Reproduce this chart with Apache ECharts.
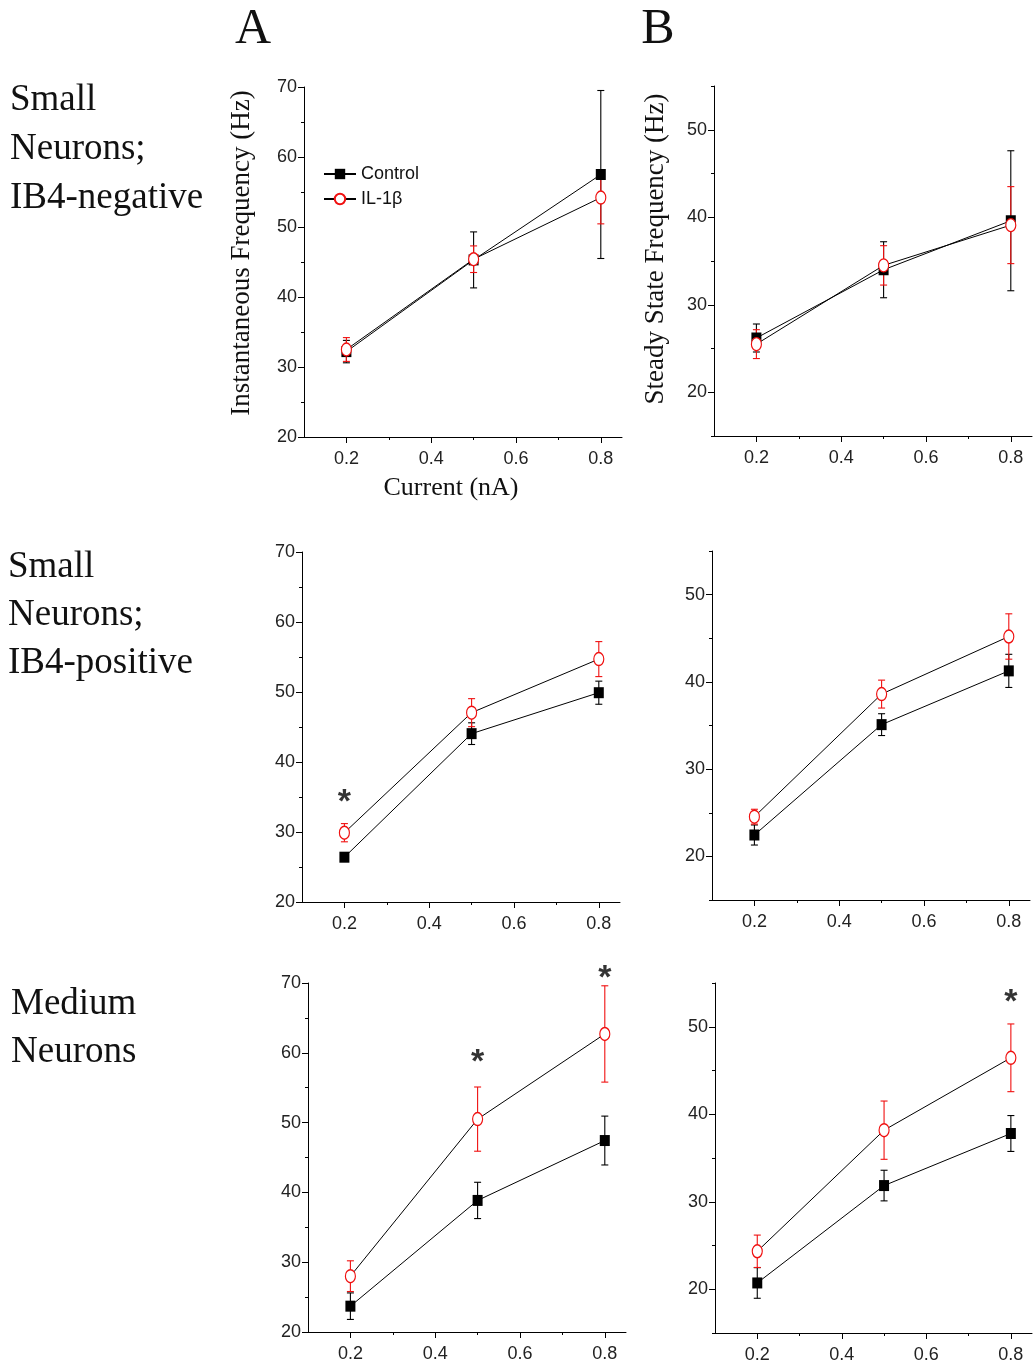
<!DOCTYPE html>
<html><head><meta charset="utf-8">
<script src="https://cdn.jsdelivr.net/npm/echarts@6/dist/echarts.min.js"></script>
<style>html,body{margin:0;padding:0;background:#fff}#c{width:1034px;height:1367px}</style>
</head><body><div id="c"></div>
<script>
// ---------- data ----------
const currents = [0.2, 0.5, 0.8];
const xTickLabels = [0.2, 0.4, 0.6, 0.8];
const xMinorTicks = [0.3, 0.5, 0.7];
const yTicksInst = [20, 30, 40, 50, 60, 70];
const yMinorInst = [25, 35, 45, 55, 65];
const yTicksSteady = [20, 30, 40, 50];
const yMinorSteady = [15, 25, 35, 45, 55];

// Small neurons IB4-negative
const instNegControl = [32.2, 45.3, 57.5];
const instNegControlErr = [1.6, 4.0, 12.0];
const instNegIL = [32.5, 45.4, 54.2];
const instNegILErr = [1.7, 1.9, 3.75];
const steadyNegControl = [26.2, 34.0, 39.6];
const steadyNegControlErr = [1.6, 3.2, 8.0];
const steadyNegIL = [25.5, 34.5, 39.1];
const steadyNegILErr = [1.65, 2.25, 4.4];
// Small neurons IB4-positive
const instPosControl = [26.4, 44.05, 49.9];
const instPosControlErr = [0.6, 1.55, 1.65];
const instPosIL = [29.9, 47.05, 54.7];
const instPosILErr = [1.3, 2.0, 2.5];
const steadyPosControl = [22.45, 35.1, 41.26];
const steadyPosControlErr = [1.15, 1.25, 1.9];
const steadyPosIL = [24.55, 38.6, 45.2];
const steadyPosILErr = [0.85, 1.6, 2.6];
// Medium neurons
const instMedControl = [23.7, 38.85, 47.43];
const instMedControlErr = [1.9, 2.6, 3.5];
const instMedIL = [28.0, 50.5, 62.7];
const instMedILErr = [2.2, 4.6, 6.9];
const steadyMedControl = [20.72, 31.85, 37.8];
const steadyMedControlErr = [1.75, 1.75, 2.05];
const steadyMedIL = [24.34, 38.18, 46.45];
const steadyMedILErr = [1.85, 3.33, 3.87];

// significance markers [current, y]
const starsInstPos = [[0.2, 35.3]];
const starsInstMed = [[0.5, 59.7], [0.8, 71.8]];
const starsSteadyMed = [[0.8, 53.7]];

const seriesNames = ['Control', 'IL-1\u03b2'];
const rowLabels = [['Small', 'Neurons;', 'IB4-negative'], ['Small', 'Neurons;', 'IB4-positive'], ['Medium', 'Neurons']];
const yTitleInst = 'Instantaneous Frequency (Hz)';
const yTitleSteady = 'Steady State Frequency (Hz)';
const xTitle = 'Current (nA)';

// ---------- layout ----------
const panels = [
  {box: [304, 87, 318, 350], yMin: 20, yMax: 70, major: yTicksInst, minor: yMinorInst,
   c: instNegControl, ce: instNegControlErr, t: instNegIL, te: instNegILErr, stars: []},
  {box: [714, 86, 318, 350], yMin: 15, yMax: 55, major: yTicksSteady, minor: yMinorSteady,
   c: steadyNegControl, ce: steadyNegControlErr, t: steadyNegIL, te: steadyNegILErr, stars: []},
  {box: [302, 552, 318, 350], yMin: 20, yMax: 70, major: yTicksInst, minor: yMinorInst,
   c: instPosControl, ce: instPosControlErr, t: instPosIL, te: instPosILErr, stars: starsInstPos},
  {box: [712, 551, 318, 349], yMin: 15, yMax: 55, major: yTicksSteady, minor: yMinorSteady,
   c: steadyPosControl, ce: steadyPosControlErr, t: steadyPosIL, te: steadyPosILErr, stars: []},
  {box: [308, 983, 318, 349], yMin: 20, yMax: 70, major: yTicksInst, minor: yMinorInst,
   c: instMedControl, ce: instMedControlErr, t: instMedIL, te: instMedILErr, stars: starsInstMed},
  {box: [715, 983, 317, 350], yMin: 15, yMax: 55, major: yTicksSteady, minor: yMinorSteady,
   c: steadyMedControl, ce: steadyMedControlErr, t: steadyMedIL, te: steadyMedILErr, stars: starsSteadyMed}
];

const RED = '#f01010';
const tickFont = '"Liberation Sans Narrow","Liberation Sans",Arial,sans-serif';
const serif = '"Liberation Serif","Times New Roman",serif';

const grid = [], xAxis = [], yAxis = [], series = [];

function errRender(color) {
  return function (params, api) {
    const x = api.value(0);
    const lo = api.coord([x, api.value(1)]);
    const hi = api.coord([x, api.value(2)]);
    const w = 3.5;
    const st = {stroke: color, lineWidth: 1.1};
    return {type: 'group', children: [
      {type: 'line', shape: {x1: lo[0], y1: lo[1], x2: hi[0], y2: hi[1]}, style: st},
      {type: 'line', shape: {x1: lo[0] - w, y1: lo[1], x2: lo[0] + w, y2: lo[1]}, style: st},
      {type: 'line', shape: {x1: hi[0] - w, y1: hi[1], x2: hi[0] + w, y2: hi[1]}, style: st}
    ]};
  };
}

panels.forEach((p, i) => {
  grid.push({left: p.box[0], top: p.box[1], width: p.box[2], height: p.box[3], outerBoundsMode: 'none'});
  const axLine = {show: true, lineStyle: {color: '#000', width: 1}};
  xAxis.push({gridIndex: i, type: 'value', position: 'bottom', min: 0.1, max: 0.85,
    axisLine: axLine, splitLine: {show: false},
    axisTick: {show: true, length: 6, customValues: xTickLabels, lineStyle: {color: '#000'}},
    axisLabel: {show: true, customValues: xTickLabels, margin: 13, color: '#222',
      fontFamily: tickFont, fontSize: 18, formatter: v => v.toFixed(1)}});
  xAxis.push({gridIndex: i, type: 'value', position: 'bottom', min: 0.1, max: 0.85,
    axisLine: {show: false}, splitLine: {show: false},
    axisTick: {show: true, length: 3, customValues: xMinorTicks, lineStyle: {color: '#000'}},
    axisLabel: {show: false}});
  yAxis.push({gridIndex: i, type: 'value', position: 'left', min: p.yMin, max: p.yMax,
    axisLine: axLine, splitLine: {show: false},
    axisTick: {show: true, length: 6, customValues: p.major, lineStyle: {color: '#000'}},
    axisLabel: {show: true, customValues: p.major, margin: 7, color: '#222',
      fontFamily: tickFont, fontSize: 18}});
  yAxis.push({gridIndex: i, type: 'value', position: 'left', min: p.yMin, max: p.yMax,
    axisLine: {show: false}, splitLine: {show: false},
    axisTick: {show: true, length: 3, customValues: p.minor, lineStyle: {color: '#000'}},
    axisLabel: {show: false}});
  const xi = 2 * i, yi = 2 * i;
  series.push({type: 'custom', xAxisIndex: xi, yAxisIndex: yi, silent: true, z: 1,
    renderItem: errRender('#000'),
    data: currents.map((x, k) => [x, p.c[k] - p.ce[k], p.c[k] + p.ce[k]])});
  series.push({type: 'custom', xAxisIndex: xi, yAxisIndex: yi, silent: true, z: 1,
    renderItem: errRender(RED),
    data: currents.map((x, k) => [x, p.t[k] - p.te[k], p.t[k] + p.te[k]])});
  series.push({name: seriesNames[0], type: 'line', xAxisIndex: xi, yAxisIndex: yi, z: 3,
    symbol: 'rect', symbolSize: [10, 11], showAllSymbol: true,
    itemStyle: {color: '#000'}, lineStyle: {color: '#000', width: 1},
    data: currents.map((x, k) => [x, p.c[k]])});
  series.push({name: seriesNames[1], type: 'line', xAxisIndex: xi, yAxisIndex: yi, z: 4,
    symbol: 'circle', symbolSize: [10, 13], showAllSymbol: true,
    itemStyle: {color: '#fff', borderColor: RED, borderWidth: 1.3},
    lineStyle: {color: '#000', width: 1},
    data: currents.map((x, k) => [x, p.t[k]])});
  if (p.stars.length) {
    series.push({type: 'scatter', xAxisIndex: xi, yAxisIndex: yi, z: 5, clip: false,
      symbolSize: 0, silent: true,
      label: {show: true, position: 'inside', formatter: '*', offset: [0, 8],
        fontFamily: '"Liberation Sans",Arial,sans-serif', fontWeight: 'bold', fontSize: 34, color: '#000'},
      data: p.stars});
  }
});

const graphic = [];
function txt(x, y, text, font, align) {
  graphic.push({type: 'text', x: x, y: y, silent: true,
    style: {text: text, font: font, fill: '#111', align: align || 'left', verticalAlign: 'middle'}});
}
txt(253, 30, 'A', '50px ' + serif, 'center');
txt(658, 30, 'B', '50px ' + serif, 'center');
const rowY = [[100, 149, 198], [567, 615, 663], [1004, 1052]];
const rowX = [10, 8, 11];
rowLabels.forEach((lines, r) => lines.forEach((s, j) => txt(rowX[r], rowY[r][j], s, '37px ' + serif)));
function rot(x, y, s) {
  graphic.push({type: 'text', x: x, y: y, rotation: Math.PI / 2, silent: true,
    style: {text: s, font: '27px ' + serif, fill: '#111', align: 'center', verticalAlign: 'middle'}});
}
rot(242, 253, yTitleInst);
rot(656, 249, yTitleSteady);
txt(451, 488, xTitle, '26px ' + serif, 'center');

const chart = echarts.init(document.getElementById('c'), null, {renderer: 'canvas'});
chart.setOption({
  animation: false,
  backgroundColor: '#fff',
  grid: grid, xAxis: xAxis, yAxis: yAxis, series: series, graphic: graphic,
  legend: {show: true, data: seriesNames, orient: 'vertical', left: 318, top: 160,
    itemWidth: 32, itemHeight: 13, itemGap: 7, selectedMode: false,
    textStyle: {fontFamily: tickFont, fontSize: 18, color: '#111'}}
});
</script></body></html>
